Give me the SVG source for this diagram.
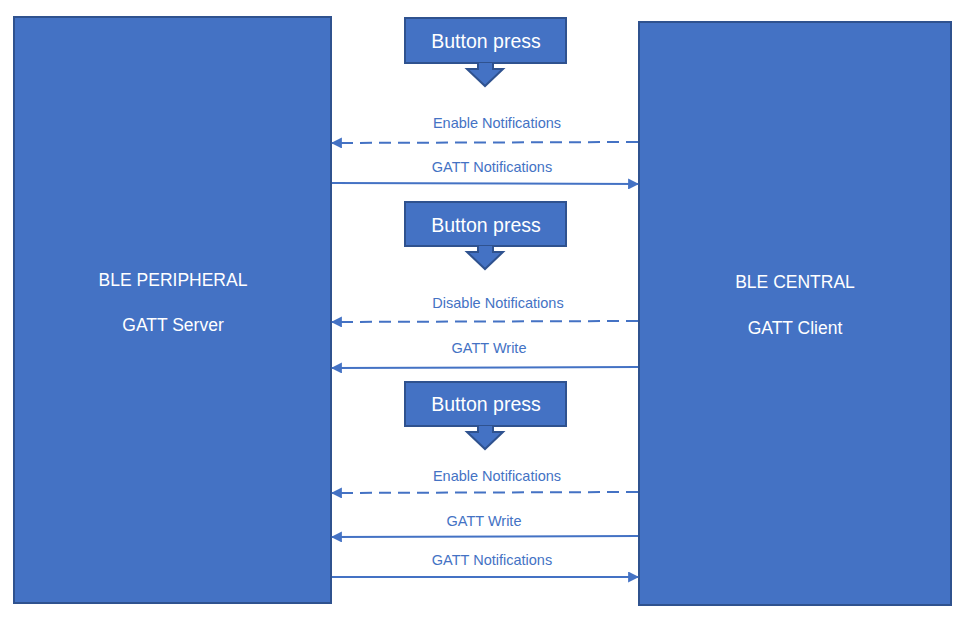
<svg xmlns="http://www.w3.org/2000/svg" width="966" height="620" viewBox="0 0 966 620">
<defs>
<style>
.box{fill:#4472C4;stroke:#2F528F;stroke-width:2}
.big{font-family:"Liberation Sans",Arial,sans-serif;font-size:17.5px;fill:#fff;text-anchor:middle}
.btn{font-family:"Liberation Sans",Arial,sans-serif;font-size:19.5px;fill:#fff;text-anchor:middle}
.lbl{font-family:"Liberation Sans",Arial,sans-serif;font-size:14.5px;fill:#4472C4;text-anchor:middle}
.ln{stroke:#4472C4;stroke-width:2;fill:none}
.dash{stroke-dasharray:12 7}
</style>
<marker id="ah" viewBox="0 0 10 10" refX="9" refY="5" markerWidth="5.5" markerHeight="5.5" orient="auto" markerUnits="strokeWidth">
<path d="M0,0 L10,5 L0,10 Z" fill="#4472C4"/>
</marker>
</defs>
<rect width="966" height="620" fill="#fff"/>
<g id="peripheral">
<rect class="box" x="14" y="17" width="317" height="586"/>
<text class="big" x="173" y="286">BLE PERIPHERAL</text>
<text class="big" x="173" y="331">GATT Server</text>
</g>
<g id="central">
<rect class="box" x="639" y="22" width="312" height="583"/>
<text class="big" x="795" y="288">BLE CENTRAL</text>
<text class="big" x="795" y="334">GATT Client</text>
</g>
<g id="button1">
<rect class="box" x="405" y="18" width="161" height="45"/>
<path class="box" d="M478,63 L478,69 L467,69 L485,86 L503,69 L493,69 L493,63" stroke-width="1.5"/>
<text class="btn" x="486" y="48">Button press</text>
</g>
<g id="button2">
<rect class="box" x="405" y="202" width="161" height="44"/>
<path class="box" d="M478,246 L478,252 L467,252 L485,269 L503,252 L493,252 L493,246" stroke-width="1.5"/>
<text class="btn" x="486" y="232">Button press</text>
</g>
<g id="button3">
<rect class="box" x="405" y="382" width="161" height="44"/>
<path class="box" d="M478,426 L478,432 L467,432 L485,449 L503,432 L493,432 L493,426" stroke-width="1.5"/>
<text class="btn" x="486" y="411">Button press</text>
</g>
<g id="connectors">
<line class="ln dash" x1="638" y1="142" x2="332" y2="143" marker-end="url(#ah)"/>
<text class="lbl" x="497" y="128">Enable Notifications</text>
<line class="ln" x1="332" y1="183" x2="638" y2="184" marker-end="url(#ah)"/>
<text class="lbl" x="492" y="172">GATT Notifications</text>
<line class="ln dash" x1="638" y1="321" x2="332" y2="322" marker-end="url(#ah)"/>
<text class="lbl" x="498" y="308">Disable Notifications</text>
<line class="ln" x1="638" y1="367" x2="332" y2="368" marker-end="url(#ah)"/>
<text class="lbl" x="489" y="353">GATT Write</text>
<line class="ln dash" x1="638" y1="492" x2="332" y2="493" marker-end="url(#ah)"/>
<text class="lbl" x="497" y="481">Enable Notifications</text>
<line class="ln" x1="638" y1="536" x2="332" y2="537" marker-end="url(#ah)"/>
<text class="lbl" x="484" y="526">GATT Write</text>
<line class="ln" x1="332" y1="577" x2="638" y2="577" marker-end="url(#ah)"/>
<text class="lbl" x="492" y="565">GATT Notifications</text>
</g>
</svg>
